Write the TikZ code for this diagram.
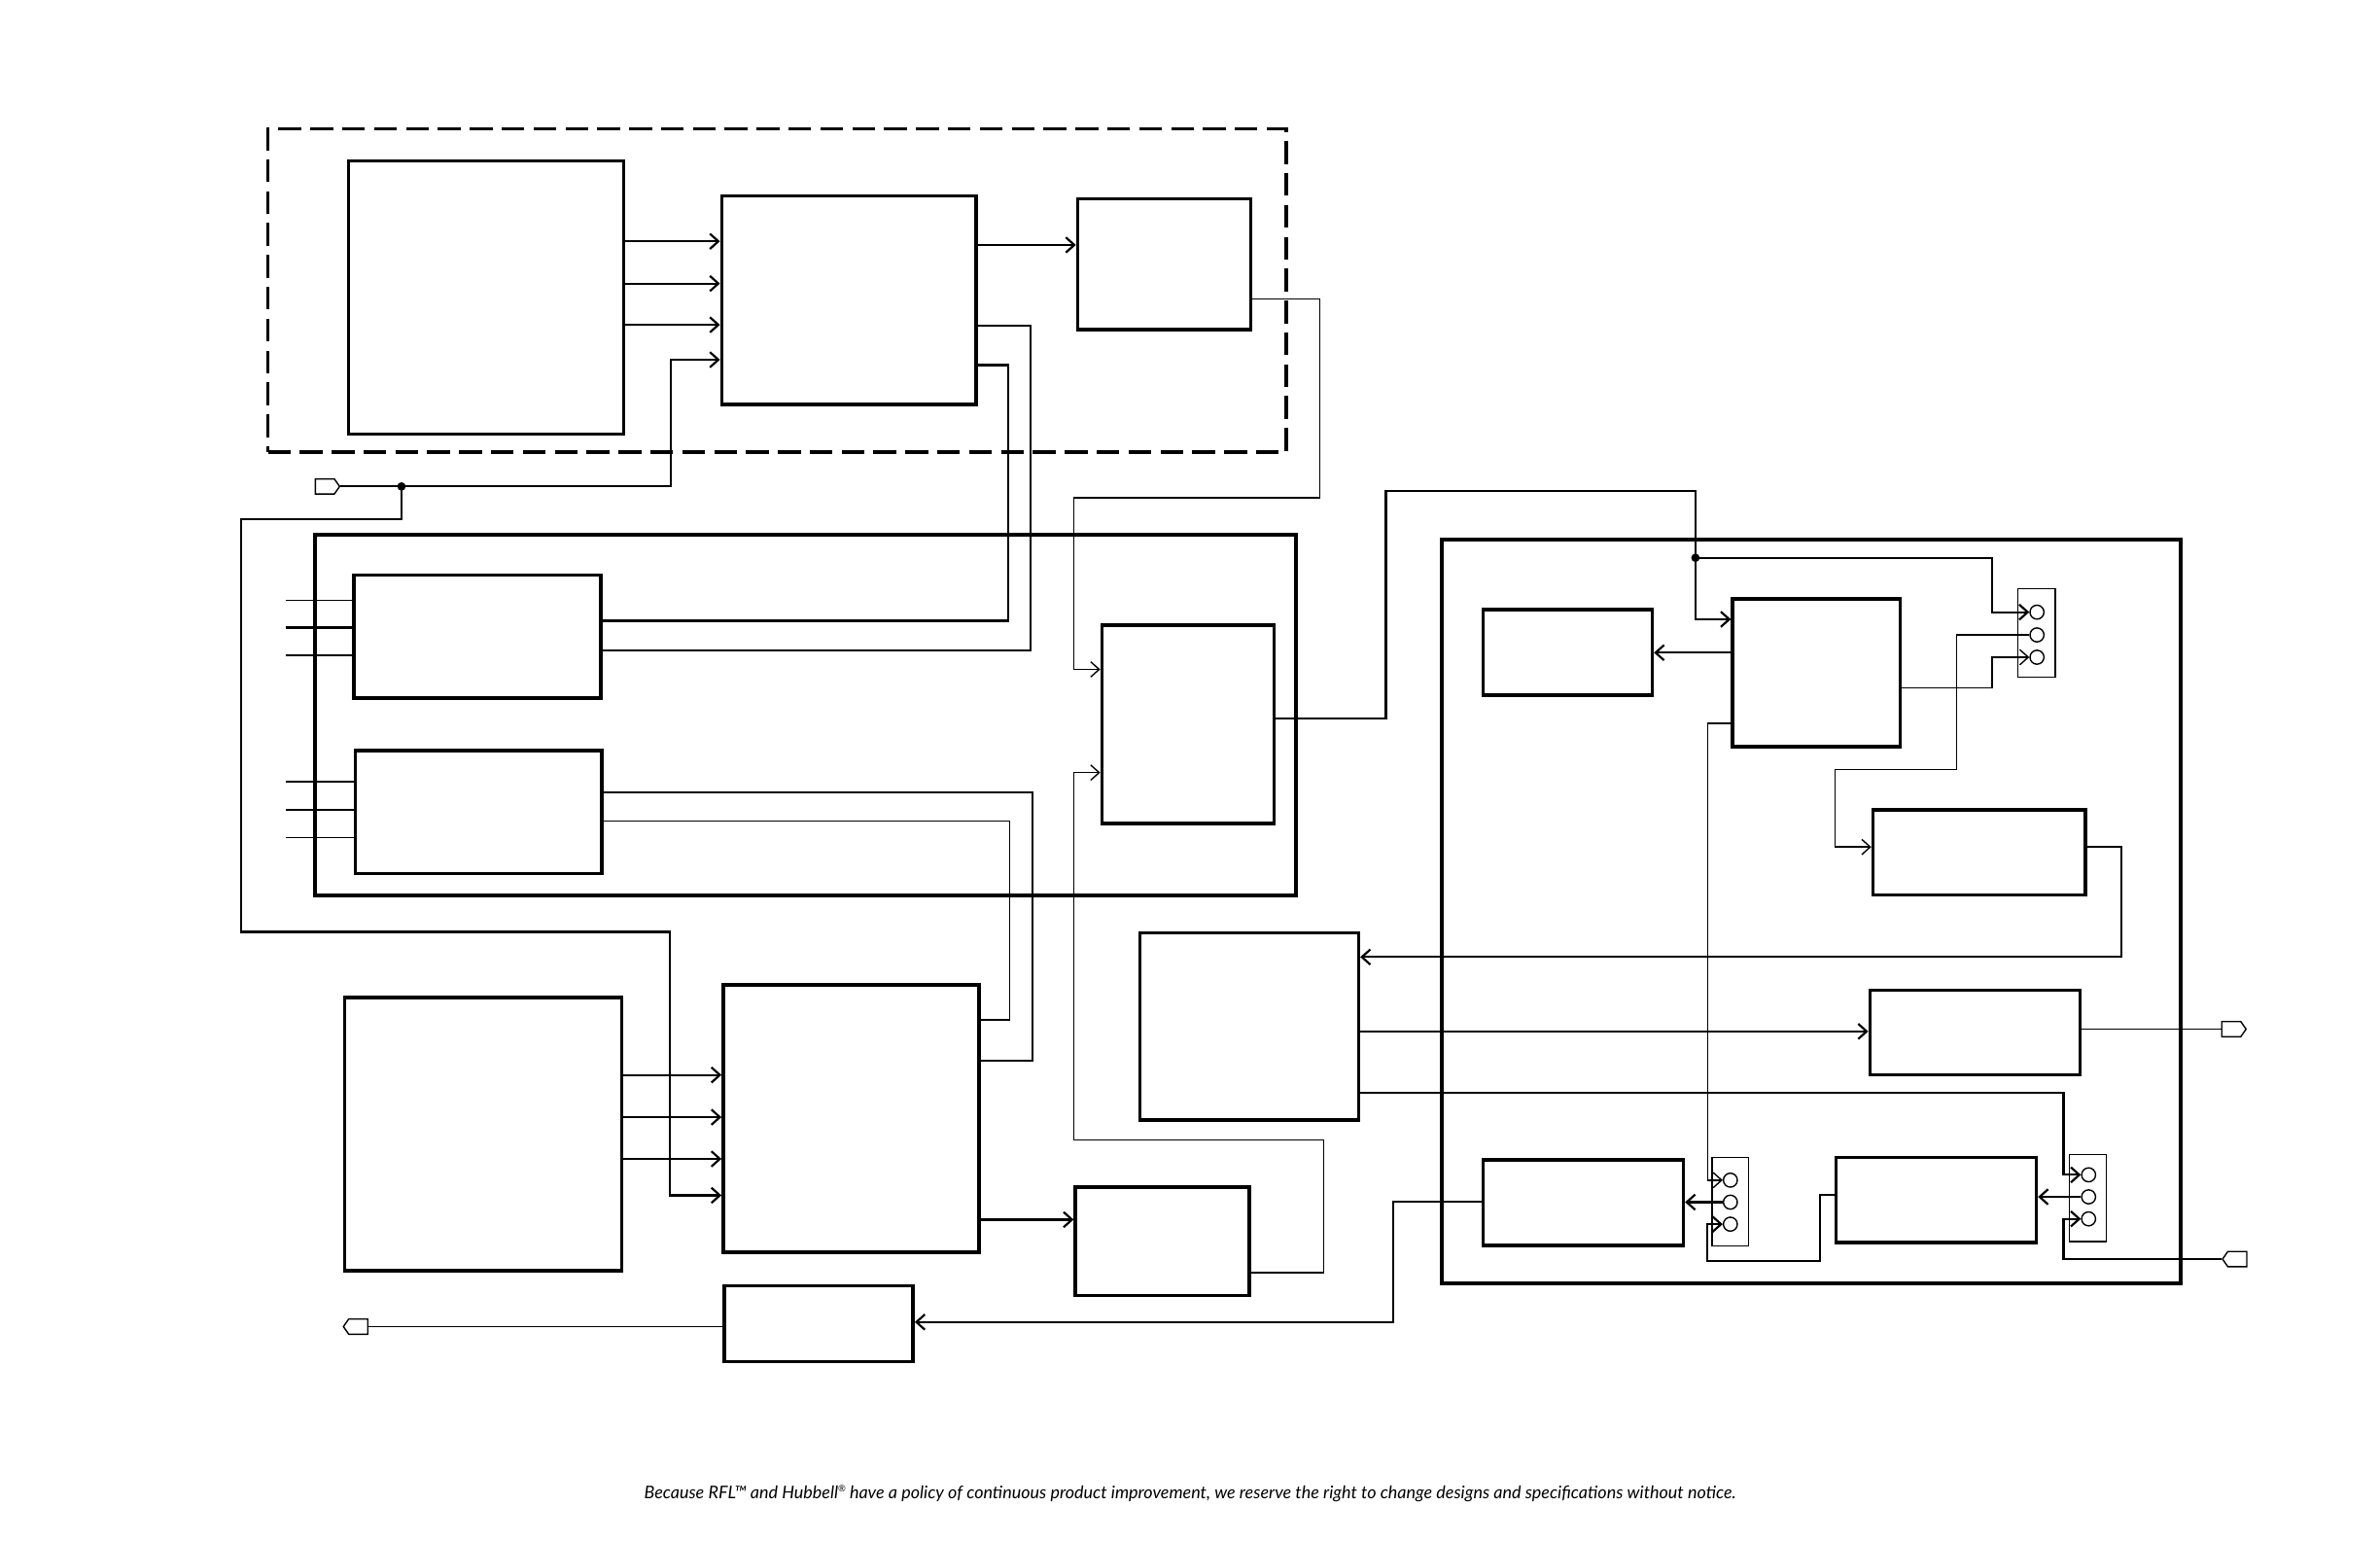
\documentclass[tikz,border=0pt]{standalone}
\usepackage{fontspec}
\setmainfont{Lato}
\usetikzlibrary{arrows.meta,fit,shapes.symbols}
\begin{document}
\begin{tikzpicture}[x=0.5pt,y=-0.5pt,
  blk/.style={draw,line width=1.15pt,inner sep=0pt},
  grp/.style={draw,line width=1.2pt,inner sep=0pt},
  dgrp/.style={draw,line width=1.15pt,dash pattern=on 7.5pt off 3pt,inner sep=0pt},
  cblk/.style={draw,line width=0.45pt,inner sep=0pt},
  pinc/.style={circle,draw,line width=0.45pt,minimum size=4.6pt,inner sep=0pt},
  jdot/.style={circle,fill=black,minimum size=2.8pt,inner sep=0pt},
  port/.style={signal,draw,line width=0.45pt,inner sep=0pt,minimum width=8pt,minimum height=5pt,signal pointer angle=110},
  lmed/.style={line width=0.7pt},
  lthin/.style={line width=0.45pt},
  arr/.style={-{Straight Barb[length=2.8pt,width=5pt]}}]
\useasboundingbox (0,0) rectangle (1568,1014.6);
% top group
\node[dgrp, fit={(176.5,85) (847.5,298)}] (grpT) {};
\node[blk, fit={(229.5,106) (411,286)}] (A) {};
\node[blk, fit={(475.5,129) (643,266.5)}] (B) {};
\node[blk, fit={(710,131) (824,217)}] (C) {};
% middle group
\node[grp, fit={(207.5,352.5) (854,590)}] (grpM) {};
\node[blk, fit={(233,379) (396,460)}] (D1) {};
\node[blk, fit={(234,494.5) (396.5,575.5)}] (D2) {};
\node[blk, fit={(726,412) (839.5,542.5)}] (E) {};
% bottom left
\node[blk, fit={(227,657) (409.5,837)}] (FL) {};
\node[blk, fit={(476.5,649) (645,825)}] (F) {};
\node[blk, fit={(708.5,782) (823,853.5)}] (G) {};
\node[blk, fit={(477,847) (601.5,897)}] (HO) {};
\node[blk, fit={(751,614.5) (895,738)}] (L) {};
% right group
\node[grp, fit={(950,355.5) (1436.5,845.5)}] (grpR) {};
\node[blk, fit={(977,401.5) (1088.5,458)}] (I) {};
\node[blk, fit={(1141.5,394.5) (1252,492)}] (H) {};
\node[blk, fit={(1234,533.5) (1374,589.5)}] (K) {};
\node[blk, fit={(1232,652.5) (1370.5,708)}] (M) {};
\node[blk, fit={(977,764) (1109,820.5)}] (O) {};
\node[blk, fit={(1209.5,762.5) (1341.5,818.5)}] (Q) {};
% connector blocks
\node[cblk, fit={(1329.5,388) (1354,446)}] (J) {};
\node[pinc] (J1) at (1342,403.3) {};
\node[pinc] (J2) at (1342,418.3) {};
\node[pinc] (J3) at (1342,433) {};
\node[cblk, fit={(1128,762.5) (1152,821)}] (N) {};
\node[pinc] (N1) at (1140,777.5) {};
\node[pinc] (N2) at (1140,792) {};
\node[pinc] (N3) at (1140,806.5) {};
\node[cblk, fit={(1363.5,760.5) (1387.5,818)}] (P) {};
\node[pinc] (P1) at (1376,774) {};
\node[pinc] (P2) at (1376,788.5) {};
\node[pinc] (P3) at (1376,803) {};
% ports
\node[port, signal to=east] (pin1) at (214,320.5) {};
\node[port, signal to=east] (pout1) at (1470,678) {};
\node[port, signal to=west] (pin2) at (1474,829.5) {};
\node[port, signal to=west] (pout2) at (236,874) {};
% junction dots
\node[jdot] (dt1) at (264.5,320.5) {};
\node[jdot] (dt2) at (1117,367.5) {};
% ---- connectors ----
\foreach \yy in {159,186.8,214} \draw[lmed,arr] (A.east |- 0,\yy) -- (B.west |- 0,\yy);
\draw[lmed,arr] (pin1.east) -- (442,320.5) |- (B.west |- 0,237);
\draw[lmed,arr] (dt1.center) |- (159,342) |- (441.5,614) |- (F.west |- 0,787.5);
\draw[lmed,arr] (B.east |- 0,161.4) -- (C.west |- 0,161.4);
\draw[lthin,arr] (C.east |- 0,197) -| (869.5,328) -| (707.5,441) -- (E.west |- 0,441);
\draw[lthin] (B.east |- 0,214.5) -| (679,428.5) -- (D1.east |- 0,428.5);
\draw[lmed] (B.east |- 0,240.5) -| (664,409) -- (D1.east |- 0,409);
\draw[lthin] (188,395.5) -- (D1.west |- 0,395.5);
\draw[lmed] (188,413.5) -- (D1.west |- 0,413.5);
\draw[lmed] (188,431.5) -- (D1.west |- 0,431.5);
\draw[lthin] (188,515) -- (D2.west |- 0,515);
\draw[lthin] (188,533.5) -- (D2.west |- 0,533.5);
\draw[lthin] (188,552) -- (D2.west |- 0,552);
\draw[lmed] (D2.east |- 0,522) -| (680,699) -- (F.east |- 0,699);
\draw[lthin] (D2.east |- 0,541) -| (665,672) -- (F.east |- 0,672);
\draw[lthin,arr] (G.east |- 0,838.5) -| (872,751) -| (707.5,509) -- (E.west |- 0,509);
\draw[lmed,arr] (E.east |- 0,473.5) -| (913,323.5) -| (1117,408) -- (H.west |- 0,408);
\draw[lmed,arr] (dt2.center) -| (1312.5,403.3) -- (J1.west);
\draw[lmed,arr] (H.west |- 0,430) -- (I.east |- 0,430);
\draw[lthin,arr] (H.east |- 0,453) -| (1312.5,433) -- (J3.west);
\draw[lthin,arr] (J2.west) -| (1289,507) -| (1209,558) -- (K.west |- 0,558);
\draw[lmed,arr] (K.east |- 0,557.7) -| (1397.5,630.5) -- (L.east |- 0,630.5);
\draw[lmed,arr] (L.east |- 0,679.5) -- (M.west |- 0,679.5);
\draw[lthin] (M.east |- 0,678) -- (pout1.west);
\draw[lmed,arr] (L.east |- 0,719.7) -| (1359.5,774) -- (P1.west);
\draw[lmed,arr] (P2.west) -- (Q.east |- 0,788.5);
\draw[lmed,arr] (pin2.west) -| (1359.5,803) -- (P3.west);
\draw[lthin,arr] (H.west |- 0,476.6) -| (1125,777.5) -- (N1.west);
\draw[lmed,arr] (N2.west) -- (O.east |- 0,792);
\draw[lmed,arr] (Q.west |- 0,787) -| (1199,831) -| (1125,806.5) -- (N3.west);
\draw[lmed,arr] (O.west |- 0,791.5) -| (918,871) -- (HO.east |- 0,871);
\draw[lthin] (HO.west |- 0,874) -- (pout2.east);
\foreach \yy in {708.2,736,763.5} \draw[lmed,arr] (FL.east |- 0,\yy) -- (F.west |- 0,\yy);
\draw[lmed,arr] (F.east |- 0,803.5) -- (G.west |- 0,803.5);
% footer
\node[font=\fontsize{5.75}{7}\selectfont\itshape, inner sep=0pt] (foot) at (784,984) {Because RFL™ and Hubbell\raisebox{2pt}{\fontsize{3}{4}\selectfont ®} have a policy of continuous product improvement, we reserve the right to change designs and specifications without notice.};
\end{tikzpicture}
\end{document}
